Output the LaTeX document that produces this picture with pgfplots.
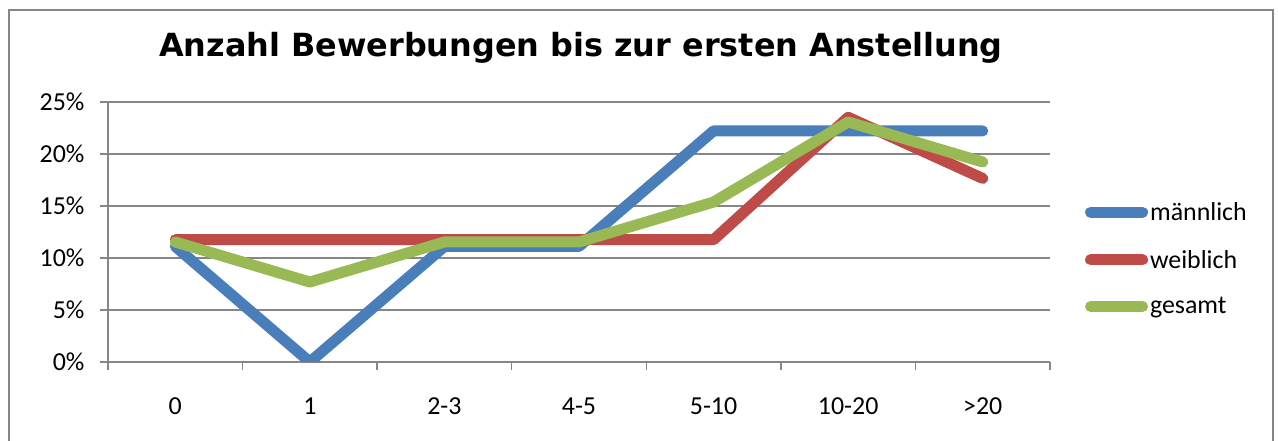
\documentclass[border=0pt]{standalone}
\usepackage{pgfplots}
\pgfplotsset{compat=1.18}
\usepackage{fontspec}
\setmainfont{Carlito}
\newfontfamily\titlefont{DejaVu Sans}
\definecolor{cblue}{HTML}{4A7EBB}
\definecolor{cred}{HTML}{BE4B48}
\definecolor{cgreen}{HTML}{98B954}
\definecolor{cgrid}{HTML}{868686}
\begin{document}
\begin{tikzpicture}[x=1bp,y=1bp]
\path[use as bounding box] (0,0) rectangle (1278,441);
\draw[cgrid, line width=1.5bp] (9,-10) -- (9,431) -- (1273,431) -- (1273,-10);
\node[font=\titlefont\bfseries\fontsize{32}{38}\selectfont, anchor=center] at (581,393) {Anzahl Bewerbungen bis zur ersten Anstellung};
\begin{axis}[
  at={(108bp,79bp)}, anchor=south west,
  scale only axis, width=942bp, height=260bp,
  xmin=-0.5, xmax=6.5, ymin=0, ymax=25,
  axis x line*=bottom, axis y line*=left,
  axis line style={cgrid, line width=1.5bp, -},
  xtick={0,...,6},
  xticklabels={0,1,2-3,4-5,5-10,10-20,>20},
  major x tick style={draw=none},
  minor xtick={-0.5,0.5,...,6.5},
  minor x tick style={cgrid, line width=1.5bp},
  minor tick length=8bp,
  ytick={0,5,...,25},
  y tick style={cgrid, line width=1.5bp},
  major tick length=8bp,
  tick align=outside,
  ymajorgrids, grid style={cgrid, line width=1.5bp},
  yticklabel={\pgfmathprintnumber{\tick}\%},
  /pgf/number format/assume math mode=true,
  ticklabel style={font=\fontsize{26}{31}\selectfont},
  xticklabel style={yshift=-24bp},
  yticklabel style={xshift=-12bp},
  legend style={at={(1.037,0.396)}, anchor=west, draw=none, fill=none,
    font=\fontsize{26}{31}\selectfont, row sep=24bp, inner sep=0pt},
  legend cell align=left,
  legend image code/.code={\draw[#1, line cap=round] (0bp,0bp) -- (52bp,0bp);},
  every axis plot/.append style={line width=11bp, line join=round, line cap=round, mark=none},
]
\addplot[cblue] coordinates {(0,11.11) (1,0) (2,11.11) (3,11.11) (4,22.22) (5,22.22) (6,22.22)};
\addplot[cred] coordinates {(0,11.76) (1,11.76) (2,11.76) (3,11.76) (4,11.76) (5,23.53) (6,17.65)};
\addplot[cgreen] coordinates {(0,11.54) (1,7.69) (2,11.54) (3,11.54) (4,15.38) (5,23.08) (6,19.23)};
\legend{männlich,weiblich,gesamt}
\end{axis}
\end{tikzpicture}
\end{document}
